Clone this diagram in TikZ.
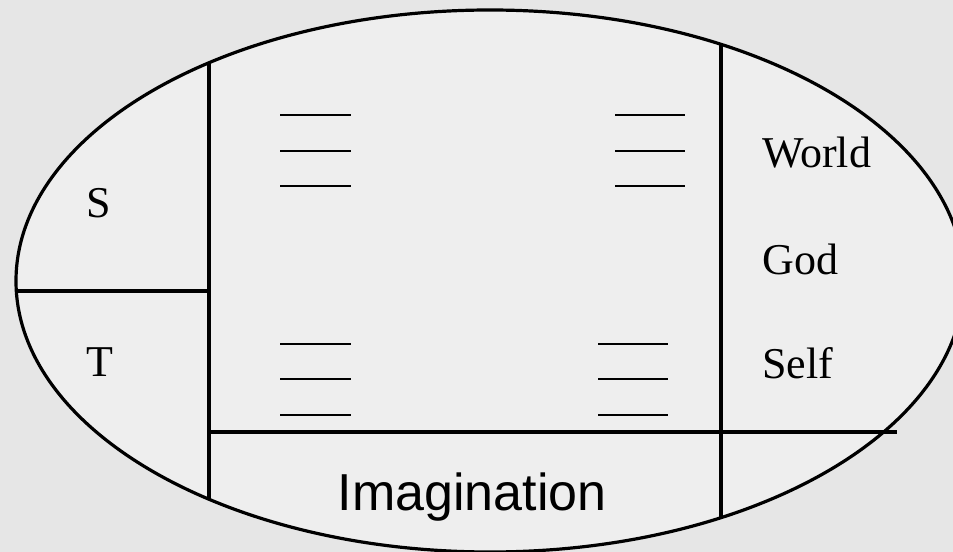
\documentclass[tikz,border=0pt]{standalone}
\usepackage{fontspec}
\setmainfont{Liberation Serif}
\newfontfamily\arialfont{Liberation Sans}
\definecolor{bgmarble}{HTML}{E6E6E6}
\definecolor{ellfill}{HTML}{EEEEEE}
\tikzset{
  divider/.style={line width=2.3pt, black},
  bar/.style={line width=2.2pt, black},
  serifl/.style={inner sep=0pt, font=\fontsize{33}{33}\selectfont},
  sansl/.style={inner sep=0pt, font=\arialfont\fontsize{39}{39}\selectfont}
}
\begin{document}
\begin{tikzpicture}[x=0.75pt, y=-0.75pt]
\useasboundingbox (0,0) rectangle (953,552);
\clip (0,0) rectangle (953,552);
% background
\fill[bgmarble] (0,0) rectangle (953,552);
% ellipse
\coordinate (C) at (490,281);
\fill[ellfill] (C) ellipse [x radius=355.5pt, y radius=203.25pt];
\begin{scope}
  \clip (C) ellipse [x radius=355.5pt, y radius=203.25pt];
  \coordinate (lvt) at (209,0);
  \coordinate (lvb) at (209,552);
  \coordinate (rvt) at (721,0);
  \coordinate (rvb) at (721,552);
  \coordinate (hl) at (0,291);
  \coordinate (hr) at (209,291);
  \draw[divider] (lvt) -- (lvb);
  \draw[divider] (rvt) -- (rvb);
  \draw[divider] (hl) -- (hr);
\end{scope}
\coordinate (bl) at (209,432);
\coordinate (br) at (897,432);
\draw[divider] (bl) -- (br);
\draw[line width=2.4pt] (C) ellipse [x radius=355.5pt, y radius=203.25pt];
% bars
\foreach \yy in {115,151,186} {
  \draw[bar] (280,\yy) -- (351,\yy);
  \draw[bar] (615,\yy) -- (685,\yy);
}
\foreach \yy in {344,379,415} {
  \draw[bar] (280,\yy) -- (351,\yy);
  \draw[bar] (598,\yy) -- (668,\yy);
}
% labels
\node[serifl, anchor=base] (s) at (98.5,218) {S};
\node[serifl, anchor=base] (t) at (99.5,376) {T};
\node[serifl, anchor=base west] (world) at (762,168) {World};
\node[serifl, anchor=base west] (god) at (762,275) {God};
\node[serifl, anchor=base west] (self) at (762,378) {Self};
\node[sansl, anchor=base] (imag) at (472,510) {Imagination};
\end{tikzpicture}
\end{document}
